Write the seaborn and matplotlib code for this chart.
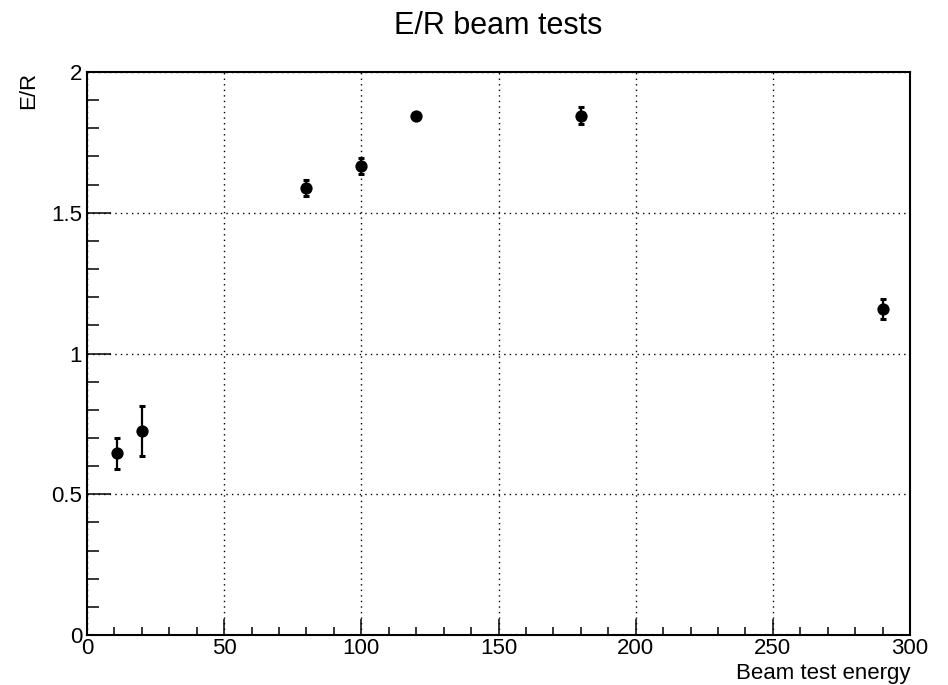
import matplotlib
matplotlib.use("Agg")
import matplotlib.pyplot as plt
import seaborn as sns
import pandas as pd
from matplotlib.ticker import MultipleLocator

# ---- data ----
energy = [11, 20, 80, 100, 120, 180, 290]
ratio = [0.645, 0.724, 1.587, 1.666, 1.844, 1.845, 1.158]
ratio_err = [0.055, 0.088, 0.028, 0.028, 0.010, 0.030, 0.034]
x_ticks = [0, 50, 100, 150, 200, 250, 300]
x_tick_labels = ["0", "50", "100", "150", "200", "250", "300"]
y_ticks = [0, 0.5, 1, 1.5, 2]
y_tick_labels = ["0", "0.5", "1", "1.5", "2"]
title = "E/R beam tests"
x_label = "Beam test energy"
y_label = "E/R"

df = pd.DataFrame({"energy": energy, "ratio": ratio, "err": ratio_err})

sns.set_style("white")
plt.rcParams["font.family"] = ["Liberation Sans", "DejaVu Sans"]
plt.rcParams["text.color"] = "black"
plt.rcParams["axes.labelcolor"] = "black"

fig = plt.figure(figsize=(9.48, 6.85), dpi=100)
ax = fig.add_axes([87 / 948, 1 - 635 / 685, (910 - 87) / 948, (635 - 72) / 685])

ax.errorbar(df["energy"], df["ratio"], yerr=df["err"], fmt="none",
            ecolor="black", elinewidth=1.6, capsize=2.4, capthick=2.2, zorder=3)
sns.scatterplot(data=df, x="energy", y="ratio", ax=ax, color="black",
                s=78, edgecolor="black", linewidth=0, zorder=4, legend=False)

ax.set_xlim(0, 300)
ax.set_ylim(0, 2)
ax.set_xticks(x_ticks)
ax.set_xticklabels(x_tick_labels)
ax.set_yticks(y_ticks)
ax.set_yticklabels(y_tick_labels)
ax.xaxis.set_minor_locator(MultipleLocator(10))
ax.yaxis.set_minor_locator(MultipleLocator(0.1))

ax.tick_params(axis="both", which="both", direction="in", top=False, right=False,
               bottom=True, left=True,
               color="black", width=1.1, labelsize=16, labelcolor="black")
ax.tick_params(axis="x", which="major", length=11.5, pad=2.5)
ax.tick_params(axis="x", which="minor", length=5.8)
ax.tick_params(axis="y", which="major", length=17.3, pad=3.5)
ax.tick_params(axis="y", which="minor", length=8.6)

ax.grid(True, which="major", color="black", linestyle=(0, (1, 3)), linewidth=1.0)
ax.set_axisbelow(True)
for sp in ax.spines.values():
    sp.set_color("black")
    sp.set_linewidth(1.5)
    sp.set_visible(True)

ax.set_title(title, fontsize=22, pad=27, color="black")
ax.set_xlabel(x_label, fontsize=16, loc="right")
ax.xaxis.set_label_coords(1.0, -0.049)
ax.set_ylabel(y_label, fontsize=16, loc="top")
ax.yaxis.set_label_coords(-0.058, 1.0)

fig.savefig("out.png", dpi=100, facecolor="white")
